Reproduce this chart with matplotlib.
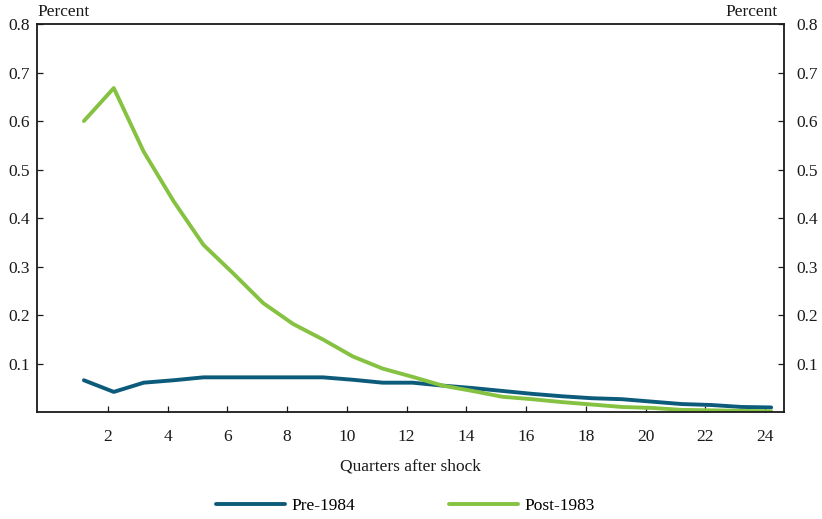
import numpy as np
import matplotlib
matplotlib.use("Agg")
import matplotlib.pyplot as plt
from matplotlib.transforms import ScaledTranslation

plt.rcParams['font.family'] = ['Liberation Serif', 'DejaVu Serif']

quarters = np.arange(1, 25)
pre_1984 = [0.066, 0.042, 0.061, 0.066, 0.072, 0.072, 0.072, 0.072, 0.072, 0.067,
            0.061, 0.061, 0.055, 0.050, 0.044, 0.038, 0.033, 0.029, 0.027, 0.022,
            0.017, 0.015, 0.011, 0.010]
post_1983 = [0.600, 0.668, 0.537, 0.435, 0.345, 0.286, 0.225, 0.182, 0.150, 0.115,
             0.090, 0.073, 0.055, 0.044, 0.032, 0.027, 0.021, 0.016, 0.011, 0.009,
             0.005, 0.004, 0.003, 0.002]
x_ticks = np.arange(2, 25, 2)
y_ticks = [0.1, 0.2, 0.3, 0.4, 0.5, 0.6, 0.7, 0.8]

blue = '#0d5b7b'
green = '#86c242'
ink = '#1a1a1a'
fs = 12.5

fig = plt.figure(figsize=(8.22, 5.19), dpi=100)
ax = fig.add_axes([0.045, 0.2056, 0.9088, 0.7482])

ax.plot(quarters, pre_1984, color=blue, lw=2.8, label='Pre-1984', solid_capstyle='round')
ax.plot(quarters, post_1983, color=green, lw=2.8, label='Post-1983', solid_capstyle='round')

ax.set_xlim(-0.57, 24.43)
ax.set_ylim(0, 0.8)
# tick marks sit slightly left of the quarter points in the original
ax.set_xticks(x_ticks - 0.2)
ax.set_xticklabels([str(t) for t in x_ticks])
ax.set_yticks(y_ticks)
ax.set_yticklabels([f'{t:.1f}' for t in y_ticks])

ax.tick_params(axis='x', direction='in', length=4.5, width=0.9, pad=12,
               labelsize=fs, colors=ink)
ax.tick_params(axis='y', direction='in', length=4.5, width=0.9, pad=5,
               labelsize=fs, colors=ink, right=True, labelright=True)
for s in ax.spines.values():
    s.set_linewidth(1.3)
    s.set_color(ink)

# right-hand labels sit a bit further out
offset = ScaledTranslation(4 / 72, 0, fig.dpi_scale_trans)
for t in ax.yaxis.get_major_ticks():
    t.label2.set_transform(t.label2.get_transform() + offset)

ax.set_xlabel('Quarters after shock', fontsize=fs, labelpad=10, color=ink)
ax.text(0.0, 1.01, 'Percent', transform=ax.transAxes, ha='left', va='bottom',
        fontsize=fs, color=ink)
ax.text(0.992, 1.01, 'Percent', transform=ax.transAxes, ha='right', va='bottom',
        fontsize=fs, color=ink)

fig.legend(loc='center', bbox_to_anchor=(0.493, 0.025), ncol=2, frameon=False,
           fontsize=fs, handlelength=4.0, handletextpad=0.35, columnspacing=5.4)

fig.savefig('out.png', dpi=100)
